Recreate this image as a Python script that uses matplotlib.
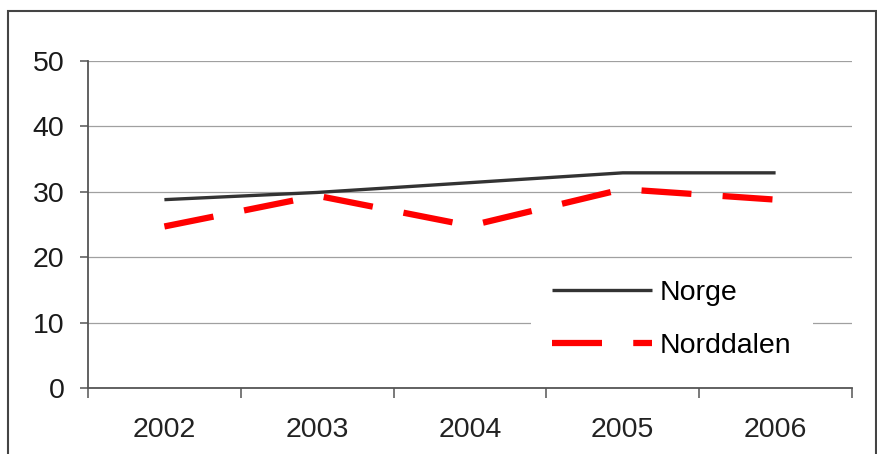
import matplotlib
matplotlib.use("Agg")
import matplotlib.pyplot as plt
from matplotlib.patches import Rectangle

# ─────────────────────────────────────────────
# DATA
# ─────────────────────────────────────────────
YEARS      = ["2002", "2003", "2004", "2005", "2006"]
NORGE      = [28.8, 29.9, 31.4, 32.9, 32.9]
NORDDALEN  = [24.7, 29.4, 24.8, 30.4, 28.8]
Y_TICKS    = [0, 10, 20, 30, 40, 50]

# ─────────────────────────────────────────────
# STYLE
# ─────────────────────────────────────────────
plt.rcParams["font.family"] = ["Liberation Sans", "DejaVu Sans"]
FS        = 20.5
GRID_COL  = "#a0a0a0"
AXIS_COL  = "#555555"

fig = plt.figure(figsize=(8.78, 4.54), dpi=100)
ax = fig.add_axes([88 / 878, 66 / 454, 764 / 878, 327 / 454])

x = list(range(len(YEARS)))
ax.plot(x, NORGE, color="#333333", lw=2.4, label="Norge", solid_capstyle="butt", zorder=3)
ax.plot(x, NORDDALEN, color="#ff0000", lw=4.5, linestyle=(0, (8, 5)),
        label="Norddalen", dash_capstyle="butt", zorder=3)

ax.set_xlim(-0.5, len(YEARS) - 0.5)
ax.set_ylim(0, 50)
ax.set_yticks(Y_TICKS)
ax.set_yticklabels([str(t) for t in Y_TICKS], fontsize=FS, color="#1a1a1a")
ax.set_xticks(x)
ax.set_xticklabels(YEARS, fontsize=FS, color="#222222")
ax.set_xticks([i - 0.5 for i in range(len(YEARS) + 1)], minor=True)
ax.tick_params(axis="x", which="major", length=0, pad=21)
ax.tick_params(axis="x", which="minor", length=7, width=1.1, color=AXIS_COL, direction="out")
ax.tick_params(axis="y", length=6, width=1.1, color=AXIS_COL, pad=11)

ax.grid(axis="y", color=GRID_COL, lw=0.9, zorder=0)
for s in ("top", "right"):
    ax.spines[s].set_visible(False)
for s in ("left", "bottom"):
    ax.spines[s].set_color(AXIS_COL)
    ax.spines[s].set_linewidth(1.3)

leg = ax.legend(loc="center", bbox_to_anchor=((672 - 88) / 764, (388 - 319.5) / 327),
                fontsize=FS, frameon=True, facecolor="white", edgecolor="none",
                framealpha=1, fancybox=False, handlelength=3.5, handletextpad=0.28,
                labelspacing=0.95, borderpad=0.75)
leg.set_zorder(5)

# outer frame around the whole chart
fig.patches.append(Rectangle((8 / 878, -0.05), 868 / 878, 1.05 - 11 / 454,
                             transform=fig.transFigure, fill=False,
                             edgecolor="#444444", lw=1.5, clip_on=False))

fig.savefig("out.png", dpi=100)
